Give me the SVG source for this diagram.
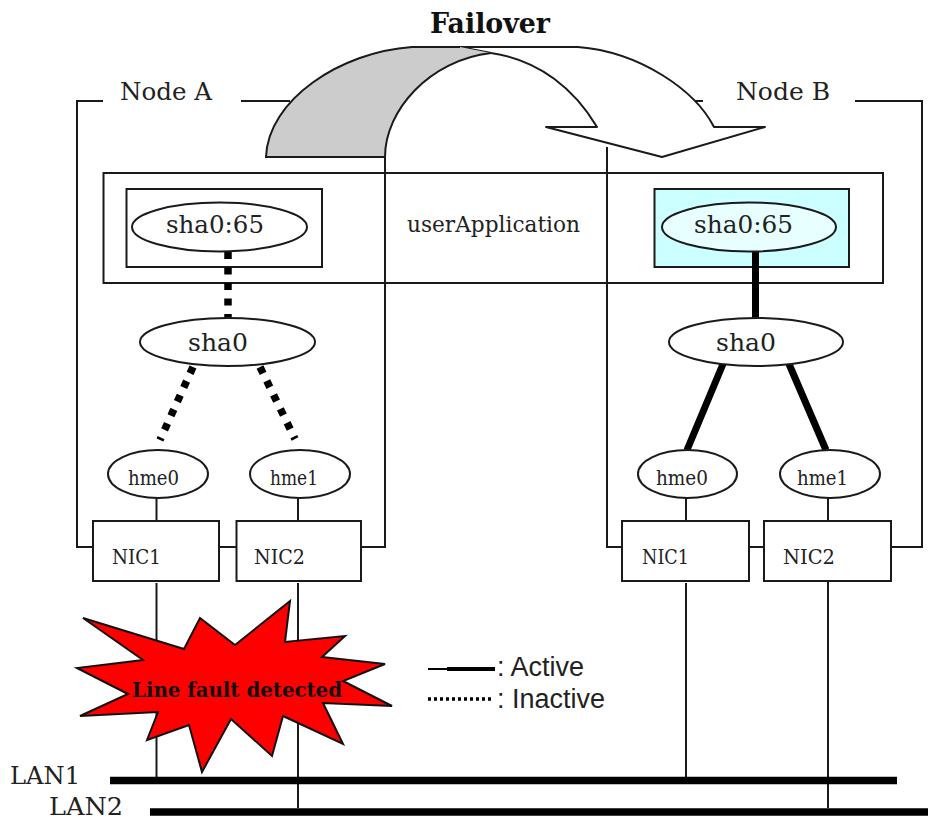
<svg xmlns="http://www.w3.org/2000/svg" width="928" height="820" viewBox="0 0 928 820">
<style>
.s{fill:none;stroke:#1a1a1a;stroke-width:2}
.b{fill:#fff;stroke:#1a1a1a;stroke-width:2}
.t{font-family:"DejaVu Serif",serif;fill:#222;font-size:25px}
.m{font-size:22px}
.n{font-size:21px}
.bd{font-family:"DejaVu Serif",serif;font-weight:bold;fill:#111}
.u{font-family:"Liberation Sans",sans-serif;fill:#222;font-size:27px}
.thick{fill:none;stroke:#000;stroke-width:7}
.dot{fill:none;stroke:#000;stroke-width:7.500;stroke-dasharray:7 8.500}
</style>
<rect width="928" height="820" fill="#fff"/>
<g id="node-a-frame">
<path class="s" d="M103,101H77V547H93M241,101H290M385,157V547H361"/>
<text class="t" x="120" y="100" textLength="92" lengthAdjust="spacingAndGlyphs">Node A</text>
</g>
<g id="node-b-frame">
<path class="s" d="M685,101H703M855,101H922V547H891M607,147V547H622"/>
<text class="t" x="736" y="100" textLength="94" lengthAdjust="spacingAndGlyphs">Node B</text>
</g>
<g id="user-application">
<rect class="s" x="103.500" y="173" width="779.500" height="110"/>
<text class="t m" x="407" y="232" textLength="173" lengthAdjust="spacingAndGlyphs">userApplication</text>
</g>
<g id="a-sha0-65-box"><rect class="s" x="126.500" y="189" width="195.500" height="78"/></g>
<g id="b-sha0-65-box"><rect x="654.500" y="189" width="194.500" height="78" fill="#ccffff" stroke="#1a1a1a" stroke-width="2"/></g>
<g id="connectors">
<path class="dot" d="M228,252V318"/>
<path class="dot" d="M193,367L160,440M260,367L295,439"/>
<path class="thick" d="M755.500,252V318M723,364L687,450M789,364L826,450"/>
<path class="s" d="M156.500,498V521M298,498V521M686,498V521M828,498V521M219,547H236M749,547H764"/>
<path class="s" d="M156.500,583V778M298,583V808M686,583V778M828,577V808"/>
</g>
<g id="a-sha0-65"><ellipse class="b" cx="219.500" cy="227" rx="87.500" ry="24.500"/>
<text class="t" x="166" y="233" textLength="98" lengthAdjust="spacingAndGlyphs">sha0:65</text></g>
<g id="b-sha0-65"><ellipse cx="749" cy="227" rx="87" ry="24.500" fill="#e8ffff" stroke="#1a1a1a" stroke-width="2"/>
<text class="t" x="694" y="233" textLength="99" lengthAdjust="spacingAndGlyphs">sha0:65</text></g>
<g id="a-sha0"><ellipse class="b" cx="227.500" cy="342" rx="87.500" ry="24"/>
<text class="t" x="188" y="351" textLength="60" lengthAdjust="spacingAndGlyphs">sha0</text></g>
<g id="b-sha0"><ellipse class="b" cx="756" cy="342" rx="87" ry="24"/>
<text class="t" x="716" y="351" textLength="60" lengthAdjust="spacingAndGlyphs">sha0</text></g>
<g id="a-hme0"><ellipse class="b" cx="158" cy="474" rx="50" ry="24"/>
<text class="t n" x="128" y="485" textLength="51" lengthAdjust="spacingAndGlyphs">hme0</text></g>
<g id="a-hme1"><ellipse class="b" cx="300" cy="474" rx="50" ry="24"/>
<text class="t n" x="270" y="485" textLength="48" lengthAdjust="spacingAndGlyphs">hme1</text></g>
<g id="b-hme0"><ellipse class="b" cx="687.500" cy="474" rx="49.500" ry="24"/>
<text class="t n" x="656" y="485" textLength="52" lengthAdjust="spacingAndGlyphs">hme0</text></g>
<g id="b-hme1"><ellipse class="b" cx="830" cy="474" rx="50" ry="24"/>
<text class="t n" x="797" y="485" textLength="51" lengthAdjust="spacingAndGlyphs">hme1</text></g>
<g id="a-nic1"><rect class="b" x="93" y="521" width="126" height="60"/>
<text class="t n" x="112" y="564" textLength="49" lengthAdjust="spacingAndGlyphs">NIC1</text></g>
<g id="a-nic2"><rect class="b" x="236.500" y="521" width="124.500" height="60"/>
<text class="t n" x="254" y="564" textLength="51" lengthAdjust="spacingAndGlyphs">NIC2</text></g>
<g id="b-nic1"><rect class="b" x="622" y="521" width="127" height="60"/>
<text class="t n" x="642" y="564" textLength="47" lengthAdjust="spacingAndGlyphs">NIC1</text></g>
<g id="b-nic2"><rect class="b" x="764" y="521" width="127" height="60"/>
<text class="t n" x="783" y="564" textLength="52" lengthAdjust="spacingAndGlyphs">NIC2</text></g>
<g id="lan1"><path d="M110,780.500H897" stroke="#000" stroke-width="7.500" fill="none"/>
<text class="t" x="10" y="784" textLength="70" lengthAdjust="spacingAndGlyphs">LAN1</text></g>
<g id="lan2"><path d="M150,812H928" stroke="#000" stroke-width="7.500" fill="none"/>
<text class="t" x="49" y="815" textLength="74" lengthAdjust="spacingAndGlyphs">LAN2</text></g>
<g id="failover-arrow">
<path d="M460,47H578C640,52 695,90 714,127H765L662,157L546,127H597C575,90 540,60 491,53Z" fill="#fff" stroke="#1a1a1a" stroke-width="2" stroke-linejoin="round"/>
<path d="M266,157C268,100 340,52 412,47H460L491,53C430,60 385,110 385,157Z" fill="#cccccc" stroke="none"/>
<path class="s" d="M385,157H266C268,100 340,52 412,47H460M491,53C430,60 385,110 385,157"/>
<text class="bd" x="430" y="33" textLength="120" lengthAdjust="spacingAndGlyphs" style="font-size:28px">Failover</text>
</g>
<g id="fault-burst">
<polygon points="83,618 184,649 200,618 235,645 290,601 285,642 345,636 322,657 385,664 343,681 392,706 323,703 343,744 283,716 272,756 231,719 202,772 189,725 147,740 158,712 80,716 128,694 77,668 143,660" fill="#ff0000" stroke="#111" stroke-width="2"/>
<text class="bd" x="132" y="697" textLength="210" lengthAdjust="spacingAndGlyphs" style="font-size:20px">Line fault detected</text>
</g>
<g id="legend">
<path d="M428,669H447" stroke="#000" stroke-width="2" fill="none"/>
<path d="M447,669H495" stroke="#000" stroke-width="4" fill="none"/>
<path d="M428,699H492" stroke="#000" stroke-width="3.500" stroke-dasharray="3 3" fill="none"/>
<text class="u" x="497" y="676">: Active</text>
<text class="u" x="497" y="708">: Inactive</text>
</g>
</svg>
